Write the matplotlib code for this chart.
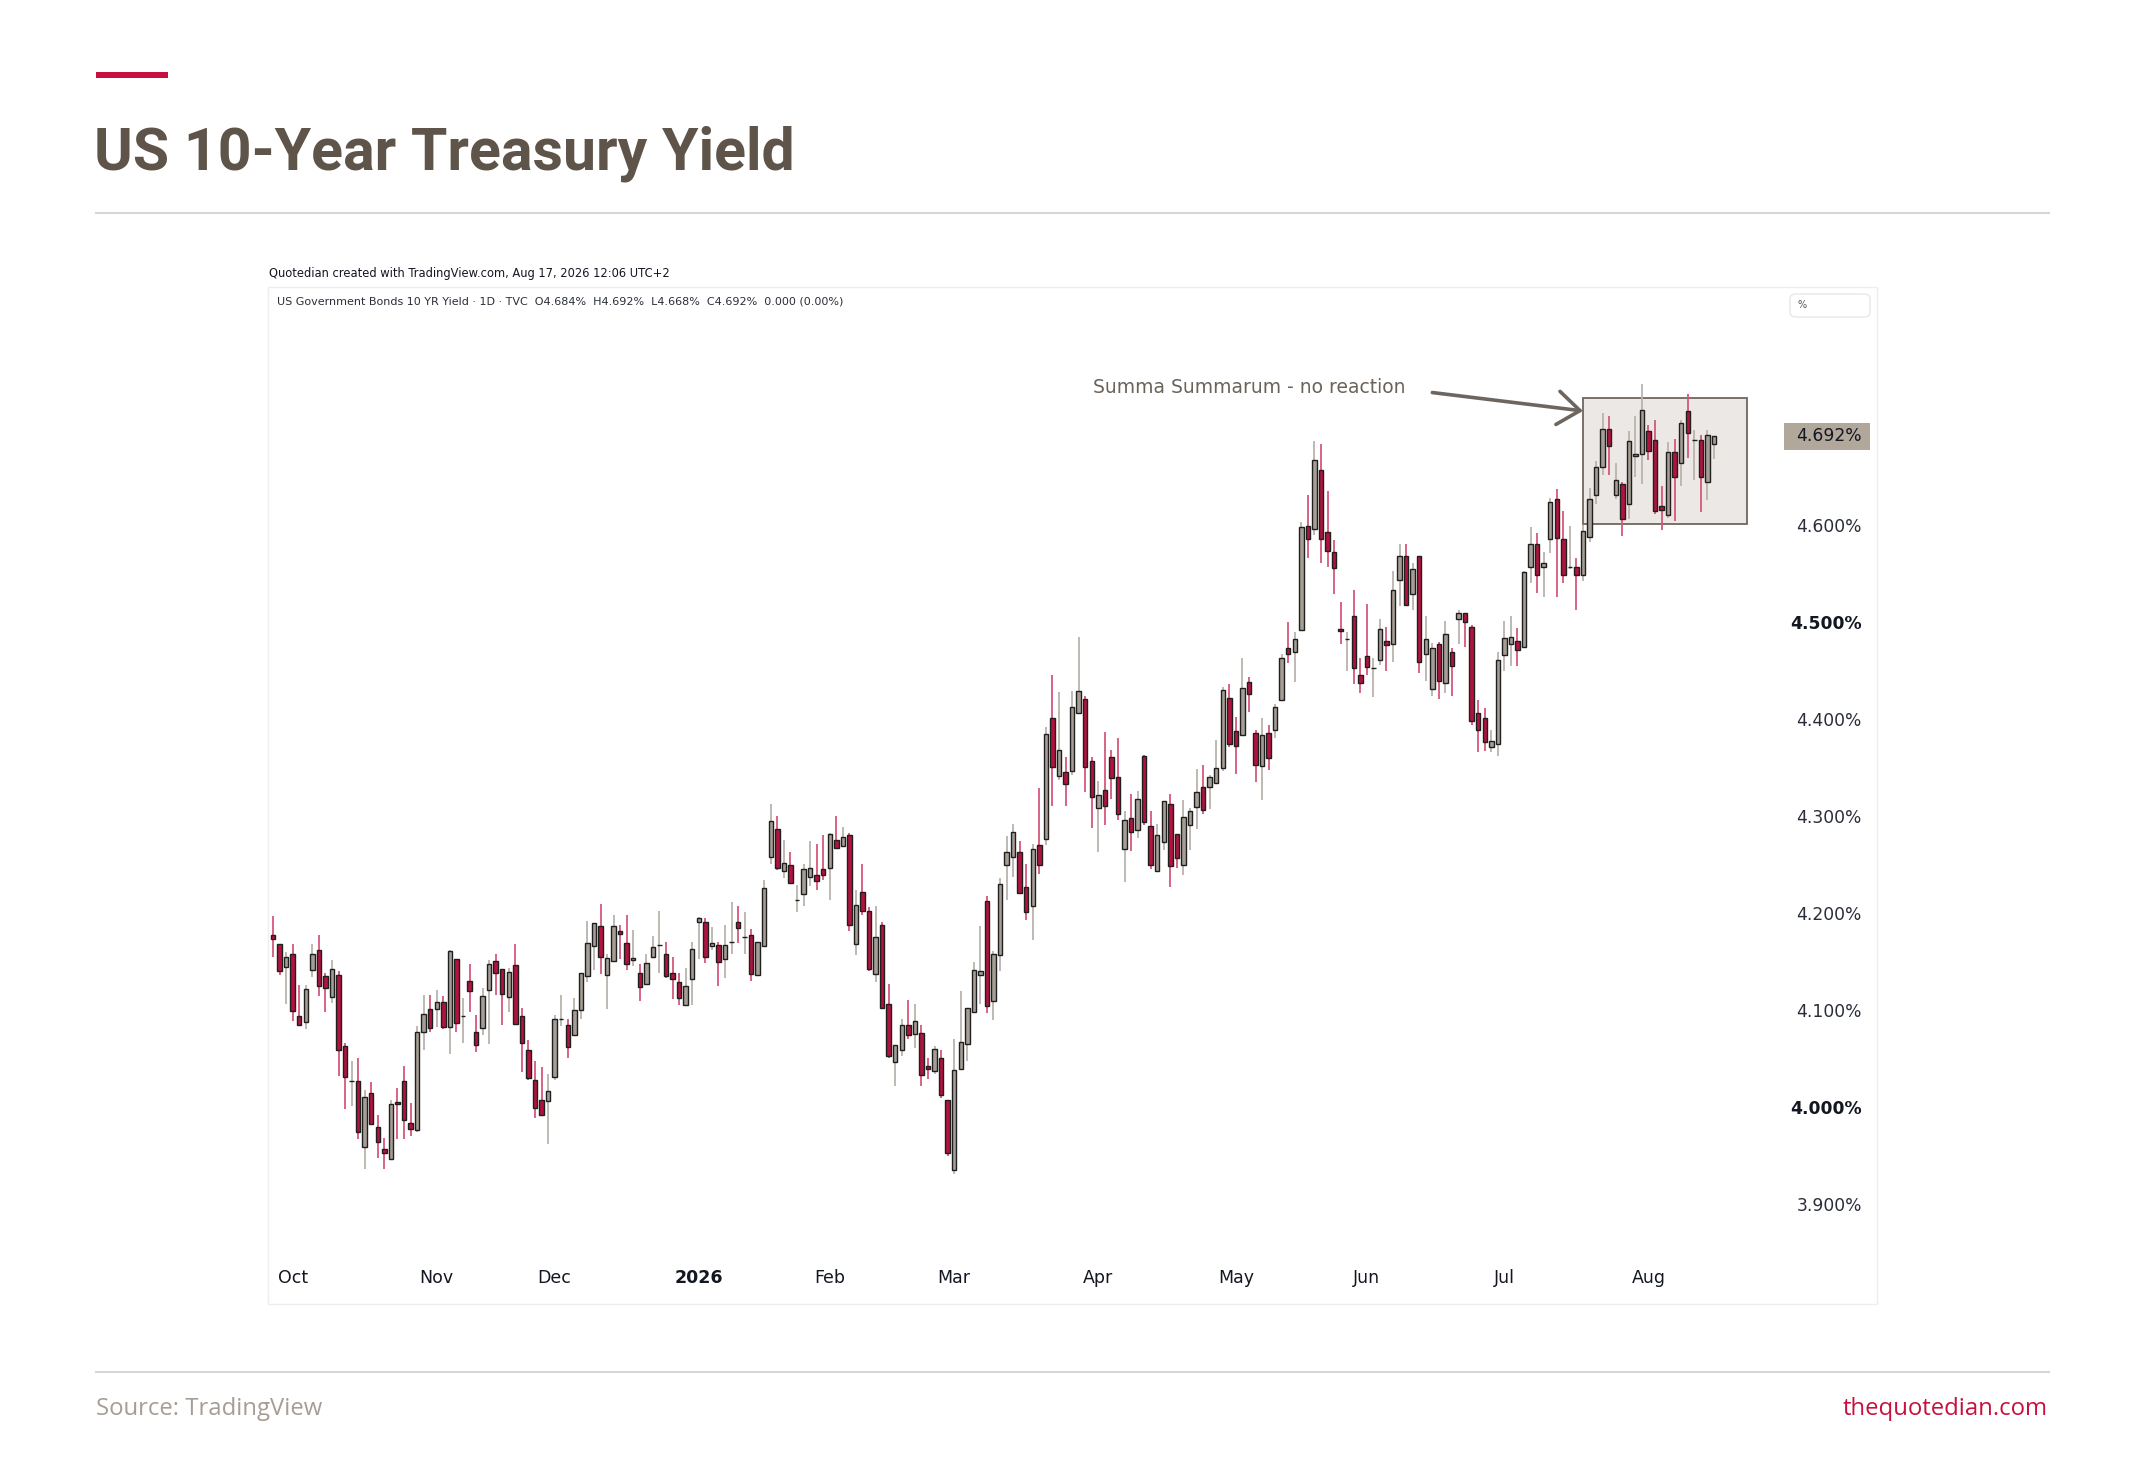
import numpy as np
import pandas as pd
import matplotlib
matplotlib.use("Agg")
import matplotlib.pyplot as plt
import matplotlib.transforms as mtransforms
from matplotlib.patches import Rectangle, FancyBboxPatch
from matplotlib.lines import Line2D

# daily candles, US 10Y yield (TVC), late Sep 2025 -> Aug 17 2026
opens = [4.177, 4.168, 4.144, 4.158, 4.094, 4.087, 4.141, 4.162, 4.135, 4.113,
         4.136, 4.063, 4.027, 4.027, 3.958, 4.014, 3.979, 3.956, 3.946, 4.005,
         4.027, 3.983, 3.976, 4.077, 4.101, 4.101, 4.108, 4.082, 4.152, 4.094,
         4.130, 4.077, 4.081, 4.120, 4.150, 4.142, 4.113, 4.146, 4.094, 4.059,
         4.028, 4.007, 4.006, 4.031, 4.090, 4.084, 4.074, 4.100, 4.135, 4.166,
         4.186, 4.136, 4.150, 4.181, 4.169, 4.151, 4.138, 4.127, 4.155, 4.167,
         4.158, 4.138, 4.129, 4.105, 4.132, 4.191, 4.191, 4.166, 4.167, 4.152,
         4.170, 4.191, 4.175, 4.177, 4.136, 4.166, 4.258, 4.287, 4.243, 4.249,
         4.213, 4.219, 4.237, 4.239, 4.245, 4.246, 4.275, 4.269, 4.280, 4.168,
         4.222, 4.202, 4.137, 4.188, 4.106, 4.046, 4.059, 4.084, 4.075, 4.076,
         4.042, 4.037, 4.050, 4.007, 3.935, 4.039, 4.065, 4.098, 4.136, 4.212,
         4.109, 4.157, 4.249, 4.258, 4.263, 4.227, 4.207, 4.270, 4.276, 4.401,
         4.341, 4.345, 4.346, 4.406, 4.421, 4.357, 4.308, 4.327, 4.361, 4.340,
         4.266, 4.298, 4.286, 4.362, 4.290, 4.243, 4.273, 4.312, 4.281, 4.249,
         4.291, 4.309, 4.330, 4.330, 4.334, 4.350, 4.422, 4.388, 4.384, 4.438,
         4.386, 4.352, 4.386, 4.389, 4.420, 4.473, 4.469, 4.492, 4.599, 4.596,
         4.657, 4.593, 4.572, 4.493, 4.483, 4.506, 4.445, 4.465, 4.453, 4.461,
         4.481, 4.477, 4.544, 4.568, 4.529, 4.568, 4.467, 4.431, 4.478, 4.437,
         4.469, 4.503, 4.510, 4.495, 4.406, 4.401, 4.371, 4.374, 4.466, 4.478,
         4.481, 4.474, 4.557, 4.581, 4.557, 4.586, 4.627, 4.586, 4.557, 4.557,
         4.549, 4.588, 4.631, 4.660, 4.699, 4.631, 4.643, 4.622, 4.672, 4.674,
         4.697, 4.688, 4.620, 4.611, 4.676, 4.664, 4.718, 4.688, 4.688, 4.645,
         4.684]
highs = [4.197, 4.168, 4.160, 4.168, 4.126, 4.126, 4.168, 4.177, 4.138, 4.151,
         4.140, 4.066, 4.047, 4.050, 4.017, 4.026, 3.991, 3.968, 4.007, 4.019,
         4.042, 4.004, 4.083, 4.115, 4.115, 4.120, 4.114, 4.162, 4.152, 4.112,
         4.147, 4.095, 4.123, 4.151, 4.158, 4.142, 4.143, 4.168, 4.102, 4.069,
         4.047, 4.041, 4.034, 4.095, 4.115, 4.090, 4.112, 4.138, 4.192, 4.190,
         4.209, 4.158, 4.198, 4.188, 4.198, 4.182, 4.147, 4.158, 4.176, 4.202,
         4.170, 4.155, 4.138, 4.143, 4.170, 4.196, 4.195, 4.185, 4.170, 4.188,
         4.211, 4.207, 4.201, 4.183, 4.170, 4.234, 4.312, 4.300, 4.275, 4.263,
         4.229, 4.250, 4.274, 4.271, 4.280, 4.282, 4.300, 4.289, 4.282, 4.224,
         4.250, 4.206, 4.207, 4.191, 4.127, 4.064, 4.091, 4.110, 4.106, 4.084,
         4.050, 4.063, 4.059, 4.007, 4.070, 4.119, 4.102, 4.149, 4.186, 4.217,
         4.161, 4.236, 4.279, 4.292, 4.274, 4.250, 4.271, 4.329, 4.392, 4.445,
         4.428, 4.361, 4.429, 4.485, 4.424, 4.361, 4.336, 4.387, 4.368, 4.380,
         4.305, 4.323, 4.326, 4.363, 4.305, 4.292, 4.315, 4.323, 4.281, 4.317,
         4.308, 4.349, 4.353, 4.342, 4.378, 4.433, 4.436, 4.402, 4.463, 4.443,
         4.389, 4.401, 4.394, 4.416, 4.467, 4.500, 4.490, 4.603, 4.631, 4.687,
         4.684, 4.635, 4.585, 4.521, 4.490, 4.533, 4.463, 4.519, 4.463, 4.503,
         4.495, 4.553, 4.581, 4.581, 4.561, 4.568, 4.506, 4.479, 4.480, 4.501,
         4.473, 4.513, 4.510, 4.497, 4.420, 4.411, 4.389, 4.469, 4.501, 4.506,
         4.494, 4.553, 4.598, 4.592, 4.572, 4.628, 4.637, 4.615, 4.599, 4.566,
         4.600, 4.639, 4.666, 4.716, 4.713, 4.664, 4.645, 4.697, 4.713, 4.746,
         4.703, 4.709, 4.641, 4.686, 4.689, 4.709, 4.736, 4.698, 4.693, 4.698,
         4.692]
lows = [4.154, 4.136, 4.106, 4.088, 4.084, 4.080, 4.134, 4.114, 4.098, 4.107,
        4.032, 3.998, 4.001, 3.967, 3.936, 3.982, 3.947, 3.936, 3.946, 3.967,
        3.967, 3.970, 3.974, 4.059, 4.077, 4.082, 4.080, 4.054, 4.077, 4.066,
        4.098, 4.056, 4.074, 4.065, 4.115, 4.084, 4.098, 4.085, 4.036, 4.028,
        3.988, 3.991, 3.962, 4.028, 4.083, 4.050, 4.074, 4.090, 4.129, 4.141,
        4.137, 4.101, 4.150, 4.152, 4.141, 4.145, 4.109, 4.127, 4.155, 4.138,
        4.133, 4.111, 4.105, 4.105, 4.105, 4.152, 4.148, 4.162, 4.125, 4.133,
        4.158, 4.169, 4.158, 4.130, 4.136, 4.166, 4.250, 4.244, 4.236, 4.231,
        4.201, 4.207, 4.228, 4.224, 4.234, 4.213, 4.267, 4.269, 4.181, 4.157,
        4.198, 4.140, 4.129, 4.102, 4.050, 4.021, 4.052, 4.070, 4.061, 4.021,
        4.029, 4.034, 4.009, 3.949, 3.931, 4.038, 4.047, 4.098, 4.106, 4.097,
        4.089, 4.140, 4.213, 4.237, 4.220, 4.193, 4.172, 4.240, 4.270, 4.310,
        4.337, 4.310, 4.342, 4.406, 4.325, 4.288, 4.263, 4.291, 4.318, 4.296,
        4.232, 4.264, 4.277, 4.291, 4.245, 4.243, 4.265, 4.227, 4.246, 4.239,
        4.265, 4.287, 4.302, 4.307, 4.334, 4.346, 4.371, 4.343, 4.384, 4.407,
        4.335, 4.317, 4.347, 4.380, 4.420, 4.458, 4.438, 4.492, 4.566, 4.590,
        4.561, 4.557, 4.529, 4.477, 4.450, 4.436, 4.427, 4.446, 4.423, 4.456,
        4.450, 4.459, 4.517, 4.518, 4.513, 4.448, 4.439, 4.424, 4.421, 4.427,
        4.424, 4.477, 4.474, 4.394, 4.366, 4.367, 4.366, 4.362, 4.450, 4.455,
        4.455, 4.474, 4.540, 4.530, 4.526, 4.571, 4.526, 4.540, 4.555, 4.513,
        4.543, 4.583, 4.622, 4.652, 4.652, 4.627, 4.589, 4.607, 4.650, 4.643,
        4.667, 4.612, 4.595, 4.608, 4.604, 4.641, 4.669, 4.647, 4.614, 4.626,
        4.668]
closes = [4.173, 4.140, 4.154, 4.099, 4.084, 4.121, 4.158, 4.125, 4.123, 4.142,
          4.059, 4.031, 4.027, 3.974, 4.010, 3.982, 3.964, 3.952, 4.003, 4.003,
          3.986, 3.977, 4.077, 4.096, 4.081, 4.108, 4.082, 4.161, 4.086, 4.094,
          4.119, 4.064, 4.114, 4.147, 4.138, 4.116, 4.139, 4.085, 4.066, 4.030,
          3.999, 3.991, 4.016, 4.090, 4.090, 4.062, 4.100, 4.138, 4.169, 4.190,
          4.155, 4.153, 4.186, 4.178, 4.147, 4.153, 4.124, 4.148, 4.165, 4.167,
          4.135, 4.132, 4.112, 4.125, 4.163, 4.195, 4.155, 4.169, 4.149, 4.167,
          4.170, 4.184, 4.175, 4.137, 4.170, 4.226, 4.295, 4.246, 4.251, 4.231,
          4.213, 4.245, 4.246, 4.233, 4.239, 4.281, 4.267, 4.278, 4.188, 4.208,
          4.202, 4.142, 4.175, 4.102, 4.052, 4.064, 4.084, 4.074, 4.088, 4.033,
          4.039, 4.060, 4.012, 3.952, 4.038, 4.067, 4.102, 4.141, 4.140, 4.104,
          4.158, 4.230, 4.263, 4.284, 4.221, 4.201, 4.266, 4.249, 4.385, 4.351,
          4.368, 4.333, 4.412, 4.429, 4.351, 4.320, 4.322, 4.310, 4.339, 4.302,
          4.296, 4.284, 4.318, 4.294, 4.249, 4.280, 4.315, 4.248, 4.257, 4.299,
          4.305, 4.325, 4.306, 4.340, 4.350, 4.430, 4.374, 4.372, 4.432, 4.426,
          4.353, 4.384, 4.360, 4.412, 4.463, 4.467, 4.483, 4.598, 4.586, 4.667,
          4.586, 4.573, 4.556, 4.491, 4.483, 4.453, 4.437, 4.454, 4.453, 4.493,
          4.476, 4.533, 4.568, 4.518, 4.555, 4.459, 4.483, 4.473, 4.439, 4.488,
          4.455, 4.510, 4.500, 4.398, 4.389, 4.376, 4.377, 4.461, 4.484, 4.485,
          4.471, 4.552, 4.581, 4.549, 4.561, 4.624, 4.587, 4.549, 4.557, 4.549,
          4.594, 4.627, 4.660, 4.699, 4.682, 4.647, 4.607, 4.687, 4.674, 4.719,
          4.677, 4.615, 4.616, 4.676, 4.650, 4.706, 4.695, 4.688, 4.650, 4.693,
          4.692]

# trading calendar (US bond market holidays removed)
holidays = ["2025-10-13", "2025-11-11", "2025-11-27", "2025-12-25", "2026-01-01",
            "2026-01-19", "2026-02-16", "2026-04-03", "2026-05-25", "2026-06-19",
            "2026-07-03"]
price_ticks = [3.9, 4.0, 4.1, 4.2, 4.3, 4.4, 4.5, 4.6]
bold_ticks = [4.0, 4.5]
last_price = 4.692

dates = pd.bdate_range("2025-09-26", "2026-08-17")
dates = dates[~dates.isin(pd.to_datetime(holidays))]

opens = np.array(opens)
highs = np.array(highs)
lows = np.array(lows)
closes = np.array(closes)
n = len(closes)
idx = np.arange(n)

W, H = 2145, 1458
def fx(px):
    return px / W
def fy(py):
    return 1 - py / H

TV = "DejaVu Sans"
fig = plt.figure(figsize=(W / 100, H / 100), dpi=100)
fig.patch.set_facecolor("white")

# page header
fig.add_artist(Rectangle((fx(96), fy(78)), (168 - 96) / W, 6 / H, transform=fig.transFigure,
                         color="#c8103e", lw=0))
fig.text(fx(94), fy(170), "US 10-Year Treasury Yield", fontsize=42.5, fontweight="bold",
         color="#5e544a", va="baseline", family="Roboto")
fig.add_artist(Line2D([fx(96), fx(2049)], [fy(213), fy(213)], color="#d6d6d6", lw=1.5))

# tradingview panel
fig.add_artist(Rectangle((fx(268), fy(1304)), (1877 - 268) / W, (1304 - 287) / H,
                         transform=fig.transFigure, fill=False, edgecolor="#eeeeee", lw=1))
fig.text(fx(269), fy(274), "Quotedian created with TradingView.com, Aug 17, 2026 12:06 UTC+2",
         fontsize=8.3, color="#131722", va="center", family=TV)
fig.text(fx(277), fy(302),
         "US Government Bonds 10 YR Yield \u00b7 1D \u00b7 TVC  O4.684%  H4.692%  L4.668%  C4.692%  0.000 (0.00%)",
         fontsize=8.0, color="#2a2e39", va="center", family=TV)
fig.add_artist(FancyBboxPatch((fx(1790), fy(317)), (1870 - 1790) / W, (317 - 294) / H,
                              boxstyle="round,pad=0,rounding_size=0.003",
                              transform=fig.transFigure, fill=False, edgecolor="#e8e8e8", lw=1))
fig.text(fx(1797), fy(305), "%", fontsize=7, color="#50535e", va="center", family=TV)

ax = fig.add_axes([fx(270), fy(1262), (1785 - 270) / W, (1262 - 287) / H])
ax.set_xlim((270 - 273) / 6.55, (1785 - 273) / 6.55)
ax.set_ylim(4.0 + (1106.7 - 1262) / 969, 4.0 + (1106.7 - 287) / 969)
for s in ax.spines.values():
    s.set_visible(False)

up = closes >= opens
body_col = np.where(up, "#a69e94", "#b3123e")
wick_col = np.where(up, "#b9b3ab", "#d4577c")
ax.vlines(idx, lows, highs, colors=wick_col, lw=1.3, zorder=2)
ax.bar(idx, np.abs(closes - opens), bottom=np.minimum(opens, closes), width=0.68,
       color=body_col, edgecolor="#1f1f1f", linewidth=1.0, zorder=3)

# highlight box + annotation
ax.add_patch(Rectangle((200, 4.601), 25, 0.130, facecolor="#ebe8e6", edgecolor="#6e665e",
                       lw=1.3, zorder=1))
ax.annotate("", xy=(200.0, 4.718), xytext=(177.0, 4.737),
            arrowprops=dict(arrowstyle="->,head_length=0.8,head_width=0.6", lw=2.6,
                            color="#6e665e", mutation_scale=20, shrinkA=0, shrinkB=0))
ax.text(149.1, 4.7426, "Summa Summarum - no reaction", ha="center", va="center",
        fontsize=13.5, color="#6b635a", family=TV)

# price scale
ax.yaxis.tick_right()
ax.set_yticks(price_ticks)
ax.set_yticklabels([f"{t:.3f}%" for t in price_ticks], family=TV, fontsize=12.3, color="#2a2e39")
for t, lab in zip(price_ticks, ax.get_yticklabels()):
    lab.set_horizontalalignment("right")
    if t in bold_ticks:
        lab.set_fontweight("bold")
        lab.set_color("#131722")
ax.tick_params(axis="y", length=0, pad=55.4)

# last price tag
blend = mtransforms.blended_transform_factory(fig.transFigure, ax.transData)
ax.add_patch(Rectangle((fx(1784), last_price - 0.0139), (1870 - 1784) / W, 0.0278,
                       transform=blend, facecolor="#b1a79b", edgecolor="none", clip_on=False))
ax.text(fx(1862), last_price, f"{last_price:.3f}%", transform=blend, ha="right", va="center",
        fontsize=12.3, color="#131722", family=TV, clip_on=False)

# time scale
starts = [i for i in range(1, n) if dates[i].month != dates[i - 1].month]
labels = [str(dates[i].year) if dates[i].month == 1 else dates[i].strftime("%b") for i in starts]
ax.set_xticks(starts)
ax.set_xticklabels(labels, family=TV, fontsize=12.5, color="#131722")
for lab in ax.get_xticklabels():
    if lab.get_text().isdigit():
        lab.set_fontweight("bold")
ax.tick_params(axis="x", length=0, pad=5)

# footer
fig.add_artist(Line2D([fx(96), fx(2049)], [fy(1372), fy(1372)], color="#d6d6d6", lw=1.5))
fig.text(fx(96), fy(1409), "Source: TradingView", fontsize=17.2, color="#a69d94", va="center",
         family="Open Sans")
fig.text(fx(2048), fy(1409), "thequotedian.com", fontsize=17.2, color="#c8103e", va="center",
         ha="right", family="Open Sans")

fig.savefig("out.png", dpi=100)
